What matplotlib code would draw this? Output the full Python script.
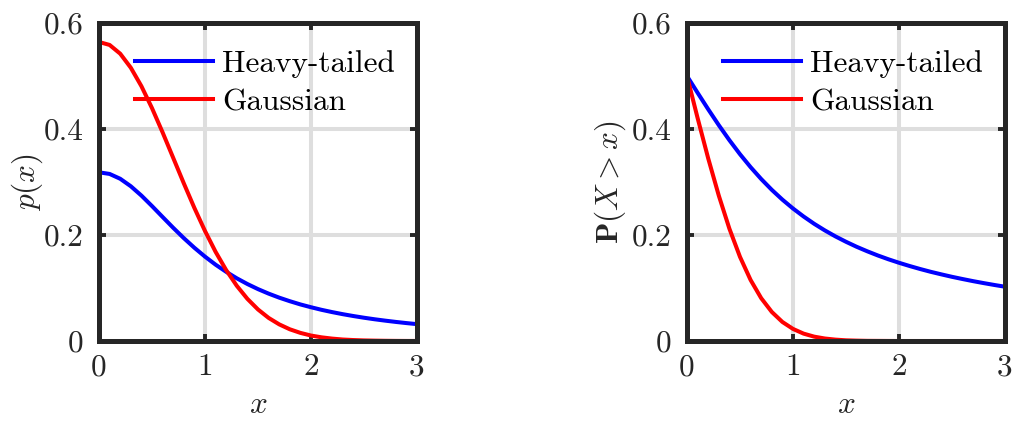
import numpy as np
import matplotlib.pyplot as plt

# valores (paso 0.1 en x)
x = [0.0, 0.1, 0.2, 0.3, 0.4, 0.5, 0.6, 0.7, 0.8, 0.9, 1.0,
     1.1, 1.2, 1.3, 1.4, 1.5, 1.6, 1.7, 1.8, 1.9, 2.0,
     2.1, 2.2, 2.3, 2.4, 2.5, 2.6, 2.7, 2.8, 2.9, 3.0]

pdf_heavy = [0.3183, 0.3152, 0.3061, 0.2920, 0.2744, 0.2546, 0.2340, 0.2136, 0.1941, 0.1759, 0.1592,
             0.1440, 0.1305, 0.1183, 0.1075, 0.0979, 0.0894, 0.0818, 0.0751, 0.0690, 0.0637,
             0.0588, 0.0545, 0.0506, 0.0471, 0.0439, 0.0410, 0.0384, 0.0360, 0.0338, 0.0318]
pdf_gauss = [0.5642, 0.5586, 0.5421, 0.5156, 0.4808, 0.4394, 0.3936, 0.3456, 0.2975, 0.2510, 0.2076,
             0.1682, 0.1337, 0.1041, 0.0795, 0.0595, 0.0436, 0.0314, 0.0221, 0.0153, 0.0103,
             0.0069, 0.0045, 0.0028, 0.0018, 0.0011, 0.0007, 0.0004, 0.0002, 0.0001, 0.0001]

ccdf_heavy = [0.5000, 0.4683, 0.4372, 0.4072, 0.3789, 0.3524, 0.3280, 0.3056, 0.2852, 0.2667, 0.2500,
              0.2349, 0.2211, 0.2087, 0.1974, 0.1872, 0.1778, 0.1693, 0.1614, 0.1542, 0.1476,
              0.1415, 0.1358, 0.1305, 0.1257, 0.1211, 0.1169, 0.1129, 0.1092, 0.1057, 0.1024]
ccdf_gauss = [0.5000, 0.4207, 0.3446, 0.2743, 0.2119, 0.1587, 0.1151, 0.0808, 0.0548, 0.0359, 0.0228,
              0.0139, 0.0082, 0.0047, 0.0026, 0.0013, 0.0007, 0.0003, 0.0002, 0.0001, 0.0000,
              0.0000, 0.0000, 0.0000, 0.0000, 0.0000, 0.0000, 0.0000, 0.0000, 0.0000, 0.0000]

xticks = [0, 1, 2, 3]
yticks = [0, 0.2, 0.4, 0.6]
ytick_labels = ['0', '0.2', '0.4', '0.6']
labels = ['Heavy-tailed', 'Gaussian']

# fuente tipo LaTeX (cmr10 viene con matplotlib)
plt.rcParams['font.family'] = ['cmr10', 'DejaVu Serif']
plt.rcParams['mathtext.fontset'] = 'cm'
plt.rcParams['axes.unicode_minus'] = False

FS = 22.5
DARK = '#262626'

fig = plt.figure(figsize=(10.13, 4.21), dpi=100)
W, H = 1013, 421
ax1 = fig.add_axes([99 / W, 80 / H, 318 / W, 318 / H])
ax2 = fig.add_axes([687 / W, 80 / H, 318 / W, 318 / H])


def style(ax):
    ax.set_xlim(0, 3)
    ax.set_ylim(0, 0.6)
    ax.set_xticks(xticks)
    ax.set_xticklabels([str(t) for t in xticks])
    ax.set_yticks(yticks)
    ax.set_yticklabels(ytick_labels)
    ax.grid(True, color='#dedede', linewidth=2.9)
    ax.set_axisbelow(True)
    for s in ax.spines.values():
        s.set_linewidth(3.6)
        s.set_color(DARK)
    ax.tick_params(direction='in', length=5, width=2.8, color=DARK,
                   top=True, right=True, labelsize=FS, labelcolor=DARK)
    ax.tick_params(axis='x', pad=9)
    ax.tick_params(axis='y', pad=11)
    ax.set_xlabel(r'$x$', fontsize=FS, color=DARK, labelpad=7)
    ax.legend(loc='upper right', frameon=False, fontsize=FS,
              handlelength=2.5, handletextpad=0.3, labelspacing=0.32,
              borderpad=0, borderaxespad=0, bbox_to_anchor=(0.931, 0.914))


ax1.plot(x, pdf_heavy, color='#0000ff', linewidth=2.9, label=labels[0])
ax1.plot(x, pdf_gauss, color='#ff0000', linewidth=2.9, label=labels[1])
style(ax1)
ax1.set_ylabel(r'$p(x)$', fontsize=FS, color=DARK)
ax1.yaxis.set_label_coords(-0.170, 0.5)

ax2.plot(x, ccdf_heavy, color='#0000ff', linewidth=2.9, label=labels[0])
ax2.plot(x, ccdf_gauss, color='#ff0000', linewidth=2.9, label=labels[1])
style(ax2)
ax2.set_ylabel(r'$\mathbf{P}(X>x)$', fontsize=FS, color=DARK)
ax2.yaxis.set_label_coords(-0.186, 0.5)

fig.savefig('out.png', dpi=100)
